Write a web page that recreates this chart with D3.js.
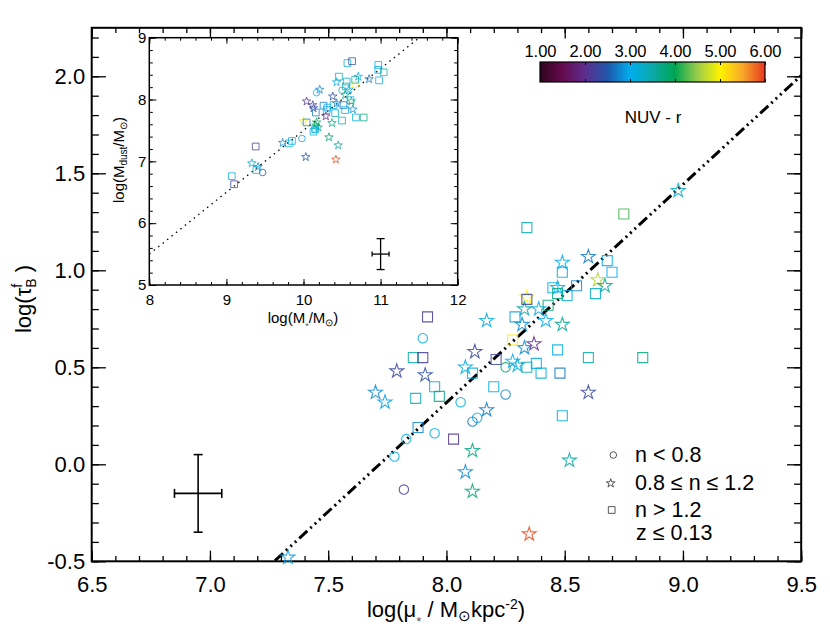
<!DOCTYPE html>
<html><head><meta charset="utf-8">
<script src="https://cdn.jsdelivr.net/npm/d3@7"></script>
<style>
body{margin:0;background:#fff;}
svg{display:block;}
text{font-family:"Liberation Sans",Arial,Helvetica,sans-serif;fill:#000;}
</style>
</head><body>
<svg id="chart" width="830" height="635"></svg>
<script>
// ---------------- DATA ----------------
// main panel: [log mu*, log tau_B^f, NUV-r]
const mainCircles = [
  [7.90,0.65,3.1],[8.25,0.50,3.9],[8.06,0.32,3.2],[8.25,0.36,2.8],[8.13,0.24,3.1],
  [8.11,0.22,2.7],[7.83,0.13,3.1],[7.95,0.16,3.1],[7.78,0.04,3.1],[7.82,-0.13,2.2]
];
const mainStars = [
  [8.98,1.41,3.3],[8.60,1.07,2.7],[8.49,1.04,3.0],[8.64,0.95,4.6],[8.67,0.92,3.6],
  [8.47,0.91,3.0],[8.34,0.86,5.0],[8.33,0.80,3.5],[8.39,0.80,3.1],[8.42,0.74,3.0],
  [8.49,0.72,3.6],[8.32,0.72,2.8],[8.17,0.74,3.1],[8.33,0.60,2.8],[8.37,0.62,2.0],
  [8.12,0.58,2.3],[7.79,0.48,2.3],[7.91,0.46,2.4],[8.08,0.50,3.1],[8.28,0.53,3.0],
  [8.30,0.51,3.1],[8.60,0.37,2.3],[7.70,0.37,2.8],[7.74,0.32,2.9],[8.17,0.28,2.7],
  [8.11,0.07,3.7],[8.52,0.02,3.5],[8.08,-0.04,2.8],[8.11,-0.14,3.8],[8.35,-0.36,5.9],
  [7.33,-0.48,2.9]
];
const mainSquares = [
  [8.75,1.29,4.2],[8.34,1.22,3.4],[8.68,1.05,3.0],[8.49,0.99,3.1],[8.70,0.99,3.0],
  [8.63,0.88,3.3],[8.55,0.92,2.8],[8.45,0.91,3.1],[8.51,0.87,3.1],[8.47,0.88,3.7],
  [8.34,0.85,2.3],[8.43,0.82,3.8],[8.29,0.76,2.9],[7.92,0.76,2.2],[8.28,0.64,5.0],
  [8.47,0.59,3.1],[8.60,0.55,3.5],[8.83,0.55,3.7],[8.21,0.54,2.3],[7.86,0.55,3.5],
  [7.90,0.55,2.2],[8.34,0.50,3.5],[8.38,0.52,3.1],[8.40,0.47,3.2],[8.48,0.47,2.7],
  [8.11,0.47,3.1],[7.95,0.40,3.1],[7.87,0.34,3.3],[7.97,0.35,3.7],[8.20,0.40,3.1],
  [8.49,0.25,3.1],[7.88,0.19,2.8],[8.03,0.13,2.1]
];
// inset: [log M*, log Mdust, NUV-r]
const insetCircles = [
  [9.47,6.82,2.4],[9.98,7.37,2.9],[10.17,8.11,3.1],[10.15,7.52,3.1],[10.67,8.24,5.0],[10.50,8.15,3.4]
];
const insetStars = [
  [9.33,6.97,3.1],[9.41,6.91,2.8],[9.73,7.30,2.8],[10.03,7.07,2.5],[10.00,7.65,5.0],
  [10.04,7.97,2.1],[10.12,7.91,2.3],[10.21,8.16,2.8],[10.13,7.86,2.3],[10.16,7.58,3.9],
  [10.19,7.55,3.8],[10.29,7.73,2.0],[10.33,7.39,3.8],[10.37,7.62,3.7],[10.45,7.26,3.6],
  [10.42,7.03,5.9],[10.38,8.05,2.4],[10.43,8.28,3.1],[10.64,7.84,2.8],[10.62,7.97,3.8],
  [10.71,8.37,3.1],[10.85,8.33,2.7],[10.43,7.94,2.7],[10.59,8.16,3.1],[10.54,8.07,3.7],
  [10.17,7.63,3.9]
];
const insetSquares = [
  [9.07,6.76,3.1],[9.10,6.63,2.3],[9.39,6.86,3.1],[9.38,7.24,2.2],[9.81,7.29,3.1],
  [9.85,7.33,3.1],[10.04,7.63,2.7],[10.16,7.79,2.7],[10.13,7.48,3.1],[10.15,7.52,3.1],
  [10.26,7.90,2.7],[10.31,7.87,3.0],[10.50,7.66,3.5],[10.41,7.78,3.4],[10.46,8.37,3.4],
  [10.57,8.59,3.3],[10.63,8.62,2.4],[10.56,8.29,3.3],[10.55,8.21,3.5],[10.54,7.83,3.1],
  [10.52,7.91,2.7],[10.67,8.32,3.5],[10.68,7.71,3.1],[10.78,7.71,3.7],[10.97,8.56,3.1],
  [10.97,8.48,3.0],[11.04,8.44,3.5],[10.98,8.31,3.1],[10.39,7.91,3.1],[10.61,7.99,3.1],
  [10.30,7.83,3.1]
];
// fit lines
const mainFit = {slope:1.124, intercept:-8.674, xFrom:7.275, xTo:9.5};
const insetFit = {slope:1.0, intercept:-2.5, xFrom:8.0, xTo:11.5};
// representative error bars
const mainErr = {x:6.95, y:-0.15, dx:0.10, dy:0.20};
const insetErr = {x:11.0, y:5.5, dx:0.11, dy:0.25};
// ticks
const mainXTicks = [6.5,7.0,7.5,8.0,8.5,9.0,9.5];
const mainYTicks = [-0.5,0.0,0.5,1.0,1.5,2.0];
const insetXTicks = [8,9,10,11,12];
const insetYTicks = [5,6,7,8,9];
// colour bar
const cbTicks = [1,2,3,4,5,6];
const cbValues = [1,1.5,2,2.5,3,3.5,4,4.5,5,5.5,6];
const cbColors = ["#2e0420","#660a4e","#5e2e8e","#1f56aa","#00aeef","#0aa9a8","#00a651","#9bcc4c","#fff200","#f7a829","#e8361f"];
// legend
const legendLabels = ["n < 0.8","0.8 \u2264 n \u2264 1.2","n > 1.2"];
const legendExtra = "z \u2264 0.13";

// ---------------- DRAW ----------------
const svg = d3.select("#chart");
const cmap = d3.scaleLinear().domain(cbValues).range(cbColors).clamp(true);

const M = {l:91.7, r:801.2, t:27.8, b:561.3};
const x = d3.scaleLinear().domain([6.5,9.5]).range([M.l,M.r]);
const y = d3.scaleLinear().domain([-0.5,2.25]).range([M.b,M.t]);
const I = {l:149.3, r:457.7, t:37.7, b:285};
const xi = d3.scaleLinear().domain([8,12]).range([I.l,I.r]);
const yi = d3.scaleLinear().domain([5,9]).range([I.b,I.t]);

function rng(a,b,s){const out=[];const n=Math.round((b-a)/s);for(let i=0;i<=n;i++)out.push(+(a+i*s).toFixed(4));return out;}

function frameTicks(g, xs, ys, o){
  const [x0,x1]=xs.range(), [y0,y1]=ys.range();
  const add=(tr,axis)=>{const a=g.append("g").attr("transform",tr).call(axis);a.select(".domain").remove();a.selectAll("line").attr("stroke","#000").attr("stroke-width",o.tw);};
  add(`translate(0,${y0})`, d3.axisTop(xs).tickValues(o.xMinor).tickSize(o.xMin).tickFormat(""));
  add(`translate(0,${y0})`, d3.axisTop(xs).tickValues(o.xMajor).tickSize(o.xMaj).tickFormat(""));
  add(`translate(0,${y1})`, d3.axisBottom(xs).tickValues(o.xMinor).tickSize(o.xMin).tickFormat(""));
  add(`translate(0,${y1})`, d3.axisBottom(xs).tickValues(o.xMajor).tickSize(o.xMaj).tickFormat(""));
  add(`translate(${x0},0)`, d3.axisRight(ys).tickValues(o.yMinor).tickSize(o.yMin).tickFormat(""));
  add(`translate(${x0},0)`, d3.axisRight(ys).tickValues(o.yMajor).tickSize(o.yMaj).tickFormat(""));
  add(`translate(${x1},0)`, d3.axisLeft(ys).tickValues(o.yMinor).tickSize(o.yMin).tickFormat(""));
  add(`translate(${x1},0)`, d3.axisLeft(ys).tickValues(o.yMajor).tickSize(o.yMaj).tickFormat(""));
  const lb=g.append("g").attr("transform",`translate(0,${y0})`)
    .call(d3.axisBottom(xs).tickValues(o.xMajor).tickSize(0).tickPadding(o.xPad).tickFormat(o.xFmt));
  lb.select(".domain").remove();
  lb.selectAll("text").attr("font-size",o.fs).attr("font-family",null);
  const ll=g.append("g").attr("transform",`translate(${x0},0)`)
    .call(d3.axisLeft(ys).tickValues(o.yMajor).tickSize(0).tickPadding(o.yPad).tickFormat(o.yFmt));
  ll.select(".domain").remove();
  ll.selectAll("text").attr("font-size",o.fs).attr("font-family",null);
  g.append("rect").attr("x",x0).attr("y",y1).attr("width",x1-x0).attr("height",y0-y1)
    .attr("fill","none").attr("stroke","#000").attr("stroke-width",o.fw);
}

function drawPts(g, data, type, size, xs, ys, sw){
  g.append("g").selectAll("path").data(data).enter().append("path")
    .attr("d", d3.symbol(type, size))
    .attr("transform", d=>`translate(${xs(d[0])},${ys(d[1])})`)
    .attr("fill","none").attr("stroke", d=>cmap(d[2])).attr("stroke-width",sw)
    .attr("stroke-opacity",0.85);
}

function errBar(g, e, xs, ys, capV, capH, sw){
  const cx=xs(e.x), cy=ys(e.y);
  const segs=[
    [xs(e.x-e.dx),cy,xs(e.x+e.dx),cy],
    [cx,ys(e.y-e.dy),cx,ys(e.y+e.dy)],
    [cx-capV,ys(e.y-e.dy),cx+capV,ys(e.y-e.dy)],
    [cx-capV,ys(e.y+e.dy),cx+capV,ys(e.y+e.dy)],
    [xs(e.x-e.dx),cy-capH,xs(e.x-e.dx),cy+capH],
    [xs(e.x+e.dx),cy-capH,xs(e.x+e.dx),cy+capH]
  ];
  g.append("g").selectAll("line").data(segs).enter().append("line")
    .attr("x1",d=>d[0]).attr("y1",d=>d[1]).attr("x2",d=>d[2]).attr("y2",d=>d[3])
    .attr("stroke","#000").attr("stroke-width",sw);
}

// ---- main panel
const gm = svg.append("g");
const f1 = v=>v.toFixed(1);
frameTicks(gm, x, y, {
  xMajor:mainXTicks, xMinor:rng(6.5,9.5,0.1), yMajor:mainYTicks, yMinor:rng(-0.5,2.2,0.1),
  xMaj:10.7, xMin:5.3, yMaj:14.2, yMin:7.1, tw:1.3, fw:2, fs:22,
  xPad:15.4, yPad:6.5, xFmt:f1, yFmt:f1
});

svg.append("defs").append("clipPath").attr("id","mclip").append("rect")
  .attr("x",M.l).attr("y",M.t).attr("width",M.r-M.l).attr("height",M.b-M.t);
const fitLine = d3.line().x(d=>x(d)).y(d=>y(mainFit.intercept+mainFit.slope*d));
gm.append("path").attr("clip-path","url(#mclip)").attr("d",fitLine([mainFit.xFrom,mainFit.xTo]))
  .attr("fill","none").attr("stroke","#000").attr("stroke-width",3)
  .attr("stroke-dasharray","11 4 2 4 2 4 2 4");

drawPts(gm, mainCircles, d3.symbolCircle, 69, x, y, 1.1);
drawPts(gm, mainStars, d3.symbolStar, 60, x, y, 1.1);
drawPts(gm, mainSquares, d3.symbolSquare, 100, x, y, 1.1);
errBar(gm, mainErr, x, y, 4.5, 4.5, 1.6);

// axis titles
const xt = gm.append("text").attr("x",446).attr("y",617).attr("text-anchor","middle").attr("font-size",22);
xt.append("tspan").text("log(\u03bc");
xt.append("tspan").attr("font-size",13).attr("dy",9).attr("fill","#555").text("*");
xt.append("tspan").attr("dy",-9).text(" / M");
xt.append("tspan").attr("font-size",15).attr("dy",4).text("\u2299");
xt.append("tspan").attr("dy",-4).text("kpc");
xt.append("tspan").attr("font-size",14).attr("dy",-8).text("-2");
xt.append("tspan").attr("dy",8).text(")");

const yt = gm.append("text").attr("transform","translate(31,299) rotate(-90)").attr("text-anchor","middle").attr("font-size",22);
yt.append("tspan").text("log(\u03c4");
yt.append("tspan").attr("font-size",14).attr("dy",-9).text("f");
yt.append("tspan").attr("font-size",14).attr("dx",-4).attr("dy",14).text("B");
yt.append("tspan").attr("dy",-5).text(" )");

// legend
const lg = gm.append("g");
const lgTypes=[d3.symbolCircle,d3.symbolStar,d3.symbolSquare];
const lgSizes=[34,24,45];
const lgSym=[[613.3,455],[610.7,483.3],[611.7,510]];
const lgBase=[461.7,490,516.5];
legendLabels.forEach((t,i)=>{
  lg.append("path").attr("d",d3.symbol(lgTypes[i],lgSizes[i])).attr("transform",`translate(${lgSym[i][0]},${lgSym[i][1]})`)
    .attr("fill","none").attr("stroke","#444").attr("stroke-width",0.9);
  lg.append("text").attr("x",635).attr("y",lgBase[i]).attr("font-size",21.5).text(t);
});
lg.append("text").attr("x",636).attr("y",539.5).attr("font-size",21.5).text(legendExtra);

// ---- inset
const gi = svg.append("g");
gi.append("rect").attr("x",I.l).attr("y",I.t).attr("width",I.r-I.l).attr("height",I.b-I.t).attr("fill","#fff");
const f0 = v=>String(v);
frameTicks(gi, xi, yi, {
  xMajor:insetXTicks, xMinor:rng(8,12,0.2), yMajor:insetYTicks, yMinor:rng(5,9,0.2),
  xMaj:6, xMin:3, yMaj:7, yMin:3.5, tw:1, fw:1.5, fs:15,
  xPad:9.3, yPad:3, xFmt:f0, yFmt:f0
});
svg.append("defs").append("clipPath").attr("id","iclip").append("rect")
  .attr("x",I.l).attr("y",I.t).attr("width",I.r-I.l).attr("height",I.b-I.t);
const fitLineI = d3.line().x(d=>xi(d)).y(d=>yi(insetFit.intercept+insetFit.slope*d));
gi.append("path").attr("clip-path","url(#iclip)").attr("d",fitLineI([insetFit.xFrom,insetFit.xTo]))
  .attr("fill","none").attr("stroke","#000").attr("stroke-width",1.3)
  .attr("stroke-dasharray","1.5 4.2");
drawPts(gi, insetCircles, d3.symbolCircle, 34, xi, yi, 0.9);
drawPts(gi, insetStars, d3.symbolStar, 22, xi, yi, 0.9);
drawPts(gi, insetSquares, d3.symbolSquare, 45, xi, yi, 0.9);
errBar(gi, insetErr, xi, yi, 4, 2.5, 1.3);

const ixt = gi.append("text").attr("x",303).attr("y",322.7).attr("text-anchor","middle").attr("font-size",15);
ixt.append("tspan").text("log(M");
ixt.append("tspan").attr("font-size",9).attr("dy",6).attr("fill","#555").text("*");
ixt.append("tspan").attr("dy",-6).text("/M");
ixt.append("tspan").attr("font-size",10).attr("dy",3).text("\u2299");
ixt.append("tspan").attr("dy",-3).text(")");

const iyt = gi.append("text").attr("transform","translate(124,160) rotate(-90)").attr("text-anchor","middle").attr("font-size",15);
iyt.append("tspan").text("log(M");
iyt.append("tspan").attr("font-size",10).attr("dy",3).text("dust");
iyt.append("tspan").attr("dy",-3).text("/M");
iyt.append("tspan").attr("font-size",10).attr("dy",3).text("\u2299");
iyt.append("tspan").attr("dy",-3).text(")");

// ---- colour bar
const CB = {l:540, r:765, t:62, b:82};
const xc = d3.scaleLinear().domain([1,6]).range([CB.l,CB.r]);
const grad = svg.select("defs").append("linearGradient").attr("id","cbg").attr("x1","0%").attr("x2","100%");
grad.selectAll("stop").data(cbValues).enter().append("stop")
  .attr("offset",d=>((d-1)/5*100)+"%").attr("stop-color",d=>cmap(d));
const gc = svg.append("g");
gc.append("rect").attr("x",CB.l).attr("y",CB.t).attr("width",CB.r-CB.l).attr("height",CB.b-CB.t)
  .attr("fill","url(#cbg)").attr("stroke","#000").attr("stroke-width",1.2);
const ct1 = gc.append("g").attr("transform",`translate(0,${CB.t})`).call(d3.axisBottom(xc).tickValues(cbTicks).tickSize(3).tickFormat(""));
ct1.select(".domain").remove();
const ct2 = gc.append("g").attr("transform",`translate(0,${CB.b})`).call(d3.axisTop(xc).tickValues(cbTicks).tickSize(3).tickFormat(""));
ct2.select(".domain").remove();
const cl = gc.append("g").attr("transform",`translate(0,${CB.t})`)
  .call(d3.axisTop(xc).tickValues(cbTicks).tickSize(0).tickPadding(5).tickFormat(v=>v.toFixed(2)));
cl.select(".domain").remove();
cl.selectAll("text").attr("font-size",16.5).attr("font-family",null);
gc.append("text").attr("x",653).attr("y",123).attr("text-anchor","middle").attr("font-size",17).text("NUV - r");
</script>
</body></html>
